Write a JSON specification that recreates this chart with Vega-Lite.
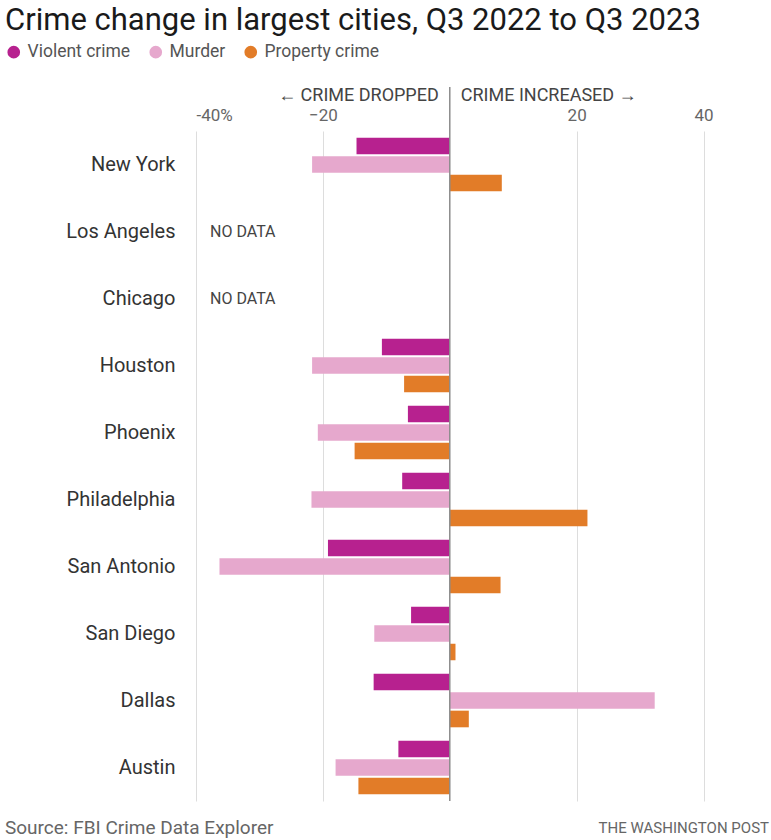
{
  "$schema": "https://vega.github.io/schema/vega-lite/v6.json",
  "width": 571,
  "height": 670,
  "autosize": {"type": "none"},
  "padding": {"left": 196, "top": 131, "right": 4, "bottom": 39},
  "background": "white",
  "title": {
    "text": "Crime change in largest cities, Q3 2022 to Q3 2023",
    "anchor": "start",
    "frame": "bounds",
    "fontSize": 31,
    "font": "Roboto",
    "fontWeight": 400,
    "color": "#1a1a1a",
    "offset": 6
  },
  "config": {"view": {"stroke": null}, "font": "Roboto"},
  "datasets": {
    "crime": [
      {"city": "New York", "type": "Violent crime", "change": -14.7},
      {"city": "New York", "type": "Murder", "change": -21.7},
      {"city": "New York", "type": "Property crime", "change": 8.2},
      {"city": "Houston", "type": "Violent crime", "change": -10.7},
      {"city": "Houston", "type": "Murder", "change": -21.7},
      {"city": "Houston", "type": "Property crime", "change": -7.2},
      {"city": "Phoenix", "type": "Violent crime", "change": -6.6},
      {"city": "Phoenix", "type": "Murder", "change": -20.8},
      {"city": "Phoenix", "type": "Property crime", "change": -15.0},
      {"city": "Philadelphia", "type": "Violent crime", "change": -7.5},
      {"city": "Philadelphia", "type": "Murder", "change": -21.8},
      {"city": "Philadelphia", "type": "Property crime", "change": 21.7},
      {"city": "San Antonio", "type": "Violent crime", "change": -19.2},
      {"city": "San Antonio", "type": "Murder", "change": -36.3},
      {"city": "San Antonio", "type": "Property crime", "change": 8.0},
      {"city": "San Diego", "type": "Violent crime", "change": -6.1},
      {"city": "San Diego", "type": "Murder", "change": -11.9},
      {"city": "San Diego", "type": "Property crime", "change": 0.9},
      {"city": "Dallas", "type": "Violent crime", "change": -12.0},
      {"city": "Dallas", "type": "Murder", "change": 32.3},
      {"city": "Dallas", "type": "Property crime", "change": 3.0},
      {"city": "Austin", "type": "Violent crime", "change": -8.1},
      {"city": "Austin", "type": "Murder", "change": -18.0},
      {"city": "Austin", "type": "Property crime", "change": -14.4}
    ],
    "nodata": [
      {"city": "Los Angeles", "note": "NO DATA"},
      {"city": "Chicago", "note": "NO DATA"}
    ]
  },
  "layer": [
    {
      "data": {"name": "crime"},
      "mark": {"type": "bar"},
      "encoding": {
        "y": {
          "field": "city",
          "type": "nominal",
          "scale": {
            "domain": ["New York", "Los Angeles", "Chicago", "Houston", "Phoenix", "Philadelphia", "San Antonio", "San Diego", "Dallas", "Austin"],
            "paddingInner": 0.2,
            "paddingOuter": 0.1
          },
          "axis": {
            "title": null,
            "domain": false,
            "ticks": false,
            "labelPadding": 21,
            "labelFontSize": 20,
            "labelColor": "#333333",
            "labelFont": "Roboto"
          }
        },
        "yOffset": {
          "field": "type",
          "type": "nominal",
          "scale": {"domain": ["Violent crime", "Murder", "Property crime"], "paddingInner": 0.1}
        },
        "x": {
          "field": "change",
          "type": "quantitative",
          "scale": {"domain": [-40, 50], "nice": false, "zero": false},
          "axis": {
            "orient": "top",
            "title": null,
            "domain": false,
            "ticks": false,
            "grid": true,
            "gridColor": "#dddddd",
            "gridWidth": 1,
            "values": [-40, -20, 20, 40],
            "labelExpr": "datum.value == -40 ? '-40%' : datum.label",
            "labelPadding": 7,
            "labelFontSize": 17,
            "labelColor": "#666666",
            "labelFont": "Roboto"
          }
        },
        "color": {
          "field": "type",
          "type": "nominal",
          "scale": {
            "domain": ["Violent crime", "Murder", "Property crime"],
            "range": ["#b7218f", "#e6a8cd", "#e27c28"]
          },
          "legend": {
            "title": null,
            "orient": "none",
            "direction": "horizontal",
            "legendX": -191,
            "legendY": -88,
            "symbolType": "circle",
            "symbolSize": 160,
            "symbolStrokeWidth": 0,
            "labelFontSize": 17.5,
            "labelColor": "#555555",
            "labelFont": "Roboto",
            "labelOffset": 5,
            "columnPadding": 16
          }
        }
      }
    },
    {
      "data": {"values": [{"zero": 0}]},
      "mark": {"type": "rule", "color": "#8c8c8c", "strokeWidth": 1.5},
      "encoding": {
        "x": {"field": "zero", "type": "quantitative"},
        "y": {"value": -44},
        "y2": {"value": 670}
      }
    },
    {
      "data": {"values": [{"zero": 0, "label": "← CRIME DROPPED"}]},
      "mark": {"type": "text", "align": "right", "baseline": "middle", "dx": -11, "fontSize": 18, "color": "#444444", "font": "Roboto"},
      "encoding": {
        "x": {"field": "zero", "type": "quantitative"},
        "y": {"value": -35},
        "text": {"field": "label"}
      }
    },
    {
      "data": {"values": [{"zero": 0, "label": "CRIME INCREASED →"}]},
      "mark": {"type": "text", "align": "left", "baseline": "middle", "dx": 11, "fontSize": 18, "color": "#444444", "font": "Roboto"},
      "encoding": {
        "x": {"field": "zero", "type": "quantitative"},
        "y": {"value": -35},
        "text": {"field": "label"}
      }
    },
    {
      "data": {"name": "nodata"},
      "mark": {"type": "text", "align": "left", "baseline": "middle", "dx": 14, "fontSize": 16, "color": "#444444", "font": "Roboto"},
      "encoding": {
        "x": {"datum": -40},
        "y": {"field": "city", "type": "nominal"},
        "text": {"field": "note"}
      }
    },
    {
      "data": {"values": [{"label": "Source: FBI Crime Data Explorer"}]},
      "mark": {"type": "text", "align": "left", "baseline": "middle", "dx": -191, "fontSize": 19, "color": "#666666", "font": "Roboto"},
      "encoding": {
        "x": {"datum": -40},
        "y": {"value": 697},
        "text": {"field": "label"}
      }
    },
    {
      "data": {"values": [{"label": "THE WASHINGTON POST"}]},
      "mark": {"type": "text", "align": "right", "baseline": "middle", "dx": 2, "fontSize": 15, "color": "#666666", "font": "Roboto"},
      "encoding": {
        "x": {"datum": 50},
        "y": {"value": 697},
        "text": {"field": "label"}
      }
    }
  ]
}
